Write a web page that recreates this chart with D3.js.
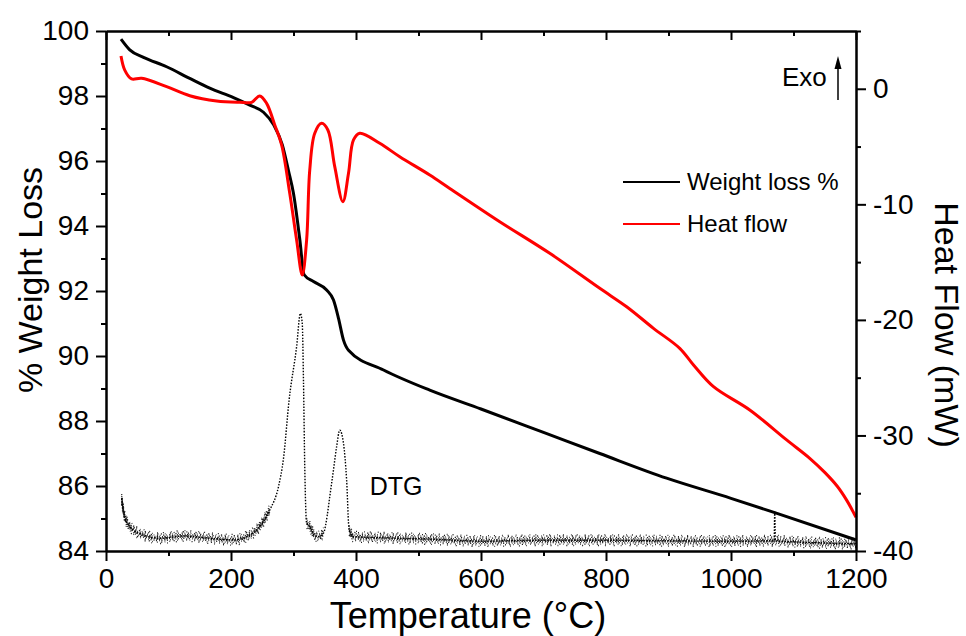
<!DOCTYPE html>
<html>
<head>
<meta charset="utf-8">
<script src="https://cdn.jsdelivr.net/npm/d3@7"></script>
<style>
  body { margin: 0; background: #fff; }
  svg { font-family: "Liberation Sans", Arial, sans-serif; }
</style>
</head>
<body>
<div id="chart"></div>
<script>
// temperature (°C) and weight (%)
var weightT = [24, 38, 60, 97, 134, 166, 204, 230, 252, 268, 282, 292, 300, 310, 317, 332, 353, 364, 372, 380, 388, 444, 518, 600, 700, 790, 897, 1000, 1070, 1200];
var weightV = [99.75, 99.42, 99.19, 98.90, 98.54, 98.24, 97.95, 97.72, 97.50, 97.12, 96.5, 95.7, 95.0, 93.6, 92.5, 92.29, 92.03, 91.72, 91.16, 90.49, 90.18, 89.57, 88.95, 88.37, 87.65, 87.0, 86.24, 85.62, 85.18, 84.34];

// heat flow (mW), right axis
var heatT = [24, 30, 41, 57, 97, 134, 177, 214, 233, 246, 257, 270, 281, 294, 305, 314, 321, 326, 334, 345, 355, 366, 379, 388, 396, 406, 438, 470, 518, 550, 630, 710, 790, 833, 876, 918, 940, 972, 1030, 1089, 1126, 1150, 1170, 1185, 1200];
var heatV = [2.84, 1.62, 0.85, 0.91, 0.18, -0.60, -1.06, -1.17, -1.17, -0.62, -1.26, -3.13, -4.86, -9.05, -13.09, -16.12, -13.09, -7.03, -3.85, -2.99, -3.57, -6.74, -9.77, -7.31, -4.43, -3.85, -4.72, -5.88, -7.46, -8.62, -11.5, -14.24, -17.27, -18.86, -20.73, -22.46, -23.9, -25.78, -27.8, -30.39, -31.98, -33.2, -34.4, -35.6, -37.08];

// DTG trace, drawn in the left axis units
var dtgT = [25, 28, 38, 60, 86, 124, 166, 204, 225, 246, 262, 276, 284, 293, 305, 311, 314, 316, 318, 321, 326, 333, 340, 348, 354, 358, 364, 369, 374, 380, 385, 389, 396, 450, 523, 603, 700, 800, 900, 1000, 1069, 1070, 1071, 1100, 1200];
var dtgV = [85.62, 85.21, 84.75, 84.49, 84.39, 84.46, 84.39, 84.34, 84.44, 84.75, 85.26, 85.98, 86.85, 88.65, 90.29, 91.31, 91.0, 89.2, 86.6, 84.86, 84.75, 84.5, 84.44, 84.55, 85.1, 85.67, 86.5, 87.21, 87.72, 87.31, 86.18, 84.65, 84.44, 84.40, 84.36, 84.30, 84.33, 84.33, 84.31, 84.30, 84.31, 85.2, 84.31, 84.28, 84.22];

var xMajor = [0, 200, 400, 600, 800, 1000, 1200];
var xMinor = [100, 300, 500, 700, 900, 1100];
var yMajor = [84, 86, 88, 90, 92, 94, 96, 98, 100];
var yMinor = [85, 87, 89, 91, 93, 95, 97, 99];
var hMajor = [-40, -30, -20, -10, 0];
var hMinor = [-35, -25, -15, -5, 5];

var legendLabels = ["Weight loss %", "Heat flow"];
var legendColors = ["#000000", "#ff0000"];

var margin = {top: 31, right: 110, bottom: 85, left: 106},
    width = 966 - margin.left - margin.right,
    height = 636 - margin.top - margin.bottom;

var svg = d3.select("#chart")
  .append("svg")
    .attr("width", 966)
    .attr("height", 636)
  .append("g")
    .attr("transform", `translate(${margin.left},${margin.top})`);

var x = d3.scaleLinear().domain([0, 1200]).range([0, width]);
var y = d3.scaleLinear().domain([84, 100]).range([height, 0]);
var yh = d3.scaleLinear().domain([-40, 5]).range([height, 0]);

var weight = weightT.map(function(t, i) { return {t: t, v: weightV[i]}; });
var heat = heatT.map(function(t, i) { return {t: t, v: heatV[i]}; });
var dtg = dtgT.map(function(t, i) { return {t: t, v: dtgV[i]}; });

// DTG: speckled baseline band (noise look) + thin dotted trace
var baseline = function(d) { return d.t < 272 || (d.t > 320 && d.t < 352) || d.t > 388; };
var bandLine = d3.line()
  .defined(baseline)
  .curve(d3.curveMonotoneX)
  .x(function(d) { return x(d.t); })
  .y(function(d) { return y(d.v); });
var dtgNoSpike = dtg.filter(function(d) { return d.t !== 1070; });

var bands = [
  {dy: -5.5, dash: "1 7 0.8 5", off: 3},
  {dy: -4.3, dash: "1 3 0.6 4.5 1.2 2.5", off: 0},
  {dy: -3, dash: "1.2 1.7 0.7 2.6", off: 2},
  {dy: -1.6, dash: "1.5 1.1 0.8 1.9 1 1.3", off: 1},
  {dy: -0.3, dash: "1.8 0.9 1.1 1.4", off: 0},
  {dy: 1, dash: "1.4 1.2 0.9 1.7 1.6 1", off: 0.5},
  {dy: 2.4, dash: "1.1 2.1 0.8 1.5", off: 1.5},
  {dy: 3.8, dash: "0.9 3.3 1.2 2.4 0.7 4", off: 2.5},
  {dy: 5.2, dash: "1 6 0.8 8", off: 0}
];
svg.selectAll("path.band")
  .data(bands)
  .join("path")
    .attr("class", "band")
    .attr("transform", function(b) { return `translate(0,${b.dy})`; })
    .attr("d", bandLine(dtgNoSpike))
    .attr("fill", "none")
    .attr("stroke", "#1a1a1a")
    .attr("stroke-width", 1.3)
    .attr("stroke-dasharray", function(b) { return b.dash; })
    .attr("stroke-dashoffset", function(b) { return b.off; });

svg.append("path")
  .datum(dtg)
  .attr("fill", "none")
  .attr("stroke", "#000")
  .attr("stroke-width", 1.4)
  .attr("stroke-dasharray", "1.5 1.5")
  .attr("d", d3.line()
    .curve(d3.curveMonotoneX)
    .x(function(d) { return x(d.t); })
    .y(function(d) { return y(d.v); }));

// weight loss
svg.append("path")
  .datum(weight)
  .attr("fill", "none")
  .attr("stroke", "#000")
  .attr("stroke-width", 3)
  .attr("d", d3.line()
    .curve(d3.curveMonotoneX)
    .x(function(d) { return x(d.t); })
    .y(function(d) { return y(d.v); }));

// heat flow
svg.append("path")
  .datum(heat)
  .attr("fill", "none")
  .attr("stroke", "#ff0000")
  .attr("stroke-width", 3)
  .attr("d", d3.line()
    .curve(d3.curveCatmullRom.alpha(0.5))
    .x(function(d) { return x(d.t); })
    .y(function(d) { return yh(d.v); }));

// axes
function styleAxis(g) {
  g.select(".domain").attr("stroke-width", 2);
  g.selectAll(".tick line").attr("stroke-width", 2);
  g.selectAll("text").style("font-size", "28px").attr("fill", "#000");
}

svg.append("g")
  .attr("transform", `translate(0,${height})`)
  .call(d3.axisBottom(x).tickValues(xMajor).tickSize(10).tickPadding(7).tickSizeOuter(0).tickFormat(d3.format("d")))
  .call(styleAxis);
svg.append("g")
  .attr("transform", `translate(0,${height})`)
  .call(d3.axisBottom(x).tickValues(xMinor).tickSize(5).tickFormat("").tickSizeOuter(0))
  .call(styleAxis);

svg.append("g")
  .call(d3.axisTop(x).tickValues(xMajor).tickSize(-9).tickFormat("").tickSizeOuter(0))
  .call(styleAxis);
svg.append("g")
  .call(d3.axisTop(x).tickValues(xMinor).tickSize(-5).tickFormat("").tickSizeOuter(0))
  .call(styleAxis);

svg.append("g")
  .call(d3.axisLeft(y).tickValues(yMajor).tickSize(10).tickPadding(7).tickSizeOuter(0))
  .call(styleAxis);
svg.append("g")
  .call(d3.axisLeft(y).tickValues(yMinor).tickSize(5).tickFormat("").tickSizeOuter(0))
  .call(styleAxis);

svg.append("g")
  .attr("transform", `translate(${width},0)`)
  .call(d3.axisRight(yh).tickValues(hMajor).tickSize(10).tickPadding(7).tickSizeOuter(0)
    .tickFormat(function(d) { return String(d); }))
  .call(styleAxis);
svg.append("g")
  .attr("transform", `translate(${width},0)`)
  .call(d3.axisRight(yh).tickValues(hMinor).tickSize(5).tickFormat("").tickSizeOuter(0))
  .call(styleAxis);

// axis titles
svg.append("text")
  .attr("x", 362)
  .attr("y", height + 77)
  .attr("text-anchor", "middle")
  .style("font-size", "36px")
  .text("Temperature (\u00b0C)");

svg.append("text")
  .attr("transform", `translate(${-64},${249}) rotate(-90)`)
  .attr("text-anchor", "middle")
  .style("font-size", "34px")
  .text("% Weight Loss");

svg.append("text")
  .attr("transform", `translate(${width + 79},${294}) rotate(90)`)
  .attr("text-anchor", "middle")
  .style("font-size", "34px")
  .text("Heat Flow (mW)");

// annotations
svg.append("text")
  .attr("x", x(422))
  .attr("y", y(84) - 56)
  .style("font-size", "25px")
  .text("DTG");

svg.append("text")
  .attr("x", width - 74)
  .attr("y", yh(0) - 3)
  .style("font-size", "26px")
  .text("Exo");

svg.append("line")
  .attr("x1", width - 18).attr("x2", width - 18)
  .attr("y1", yh(-0.97)).attr("y2", yh(2.0))
  .attr("stroke", "#000").attr("stroke-width", 1.5);
svg.append("path")
  .attr("d", `M${width - 18},${yh(2.84)} l-3.5,13 l7,0 z`)
  .attr("fill", "#000");

// legend
var legend = svg.selectAll("g.legend")
  .data(legendLabels)
  .join("g")
    .attr("class", "legend")
    .attr("transform", function(d, i) { return `translate(${517},${151 + i * 42})`; });
legend.append("line")
  .attr("x1", 0).attr("x2", 57)
  .attr("stroke", function(d, i) { return legendColors[i]; })
  .attr("stroke-width", 2.2);
legend.append("text")
  .attr("x", 64)
  .attr("y", 8)
  .style("font-size", "24px")
  .text(function(d) { return d; });
</script>
</body>
</html>
